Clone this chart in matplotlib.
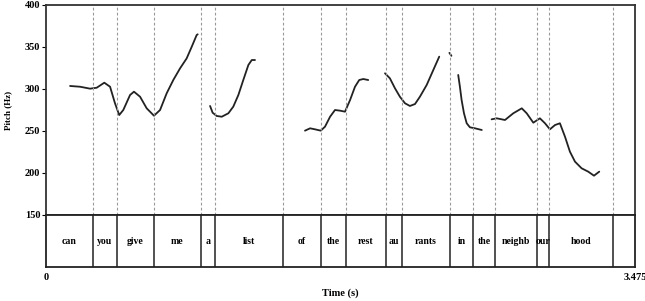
import numpy as np
import matplotlib
matplotlib.use('Agg')
import matplotlib.pyplot as plt

plt.rcParams['font.family'] = ['Liberation Serif', 'DejaVu Serif']
plt.rcParams['font.weight'] = 'bold'

# word tier: boundaries (s) and labels
bounds = [0.0, 0.277, 0.419, 0.637, 0.914, 0.997, 1.398, 1.622, 1.770,
          2.006, 2.100, 2.383, 2.519, 2.649, 2.897, 2.968, 3.345, 3.475]
words = ['can', 'you', 'give', 'me', 'a', 'list', 'of', 'the', 'rest',
         'au', 'rants', 'in', 'the', 'neighb', 'our', 'hood', '']
t_end = 3.475

# pitch contour pieces (time s, pitch Hz)
seg1_t = [0.142, 0.201, 0.260, 0.299, 0.344, 0.378, 0.407, 0.432, 0.456, 0.496, 0.519,
          0.555, 0.594, 0.637, 0.673, 0.712, 0.751, 0.791, 0.830, 0.860, 0.889, 0.895]
seg1_f = [303.6, 302.7, 300.4, 301.5, 307.5, 302.7, 283.0, 269.0, 275.0, 292.9, 296.8,
          290.8, 277.0, 268.2, 275.0, 294.9, 310.7, 324.6, 336.5, 350.4, 364.3, 365.1]
seg2_t = [0.968, 0.983, 1.007, 1.037, 1.076, 1.105, 1.135, 1.164, 1.194, 1.214, 1.233]
seg2_f = [279.8, 271.8, 267.9, 267.0, 271.1, 279.0, 292.9, 310.7, 328.6, 334.5, 334.5]
seg3_t = [1.528, 1.558, 1.587, 1.621, 1.646, 1.676, 1.705, 1.735, 1.764, 1.794, 1.823,
          1.848, 1.872, 1.901]
seg3_f = [250.4, 253.2, 252.0, 250.4, 255.1, 267.0, 275.0, 274.2, 273.0, 286.9, 302.7,
          310.7, 311.9, 310.7]
seg4_t = [2.000, 2.029, 2.059, 2.088, 2.118, 2.147, 2.177, 2.206, 2.246, 2.285, 2.320]
seg4_f = [318.7, 312.7, 300.8, 290.8, 283.0, 279.8, 282.1, 290.8, 304.8, 322.6, 338.5]
seg5_t = [2.380, 2.392]
seg5_f = [343.0, 339.5]
seg6_t = [2.432, 2.442, 2.452, 2.466, 2.482, 2.501, 2.531, 2.571]
seg6_f = [316.7, 302.7, 286.9, 271.1, 259.2, 254.4, 253.2, 251.2]
seg7_t = [2.629, 2.659, 2.708, 2.757, 2.807, 2.836, 2.875, 2.914, 2.944, 2.973, 3.003,
          3.032, 3.062, 3.091, 3.121, 3.160, 3.199, 3.233, 3.264]
seg7_f = [263.9, 265.1, 263.1, 271.1, 277.0, 271.1, 259.9, 265.1, 259.2, 252.0, 257.1,
          259.2, 243.2, 225.4, 213.5, 205.6, 201.6, 196.8, 201.6]

segs = [(seg1_t, seg1_f), (seg2_t, seg2_f), (seg3_t, seg3_f), (seg4_t, seg4_f),
        (seg5_t, seg5_f), (seg6_t, seg6_f), (seg7_t, seg7_f)]

fig = plt.figure(figsize=(6.45, 3.01), dpi=100)
ax = fig.add_axes([46/645, 1-215/301, 589/645, 210/301])
tier = fig.add_axes([46/645, 1-267/301, 589/645, 52/301])

for t, f in segs:
    ax.plot(t, f, color='#222222', lw=1.3, solid_capstyle='round', solid_joinstyle='round')

for b in bounds[1:-1]:
    ax.axvline(b, color='#999999', lw=0.8, ls=(0, (2.5, 2)))
    tier.axvline(b, color='#222222', lw=1.1)

ax.set_xlim(0, t_end)
ax.set_ylim(150, 400)
ax.set_yticks([150, 200, 250, 300, 350, 400])
ax.set_xticks([])
ax.tick_params(axis='y', length=3, width=0.8, pad=1, labelsize=7.5)
for lab in ax.get_yticklabels():
    lab.set_fontweight('bold')
ax.set_ylabel('Pitch (Hz)', fontsize=6.5, fontweight='bold', labelpad=9)
for s in ax.spines.values():
    s.set_linewidth(1.3)
    s.set_color('#333333')

for i in range(len(words)):
    mid = (bounds[i] + bounds[i+1]) / 2
    tier.text(mid, 0.5, words[i], ha='center', va='center', fontsize=7, fontweight='bold')

tier.set_xlim(0, t_end)
tier.set_ylim(0, 1)
tier.set_yticks([])
tier.set_xticks([0, t_end])
tier.set_xticklabels(['0', '3.475'])
tier.tick_params(axis='x', length=0, pad=4, labelsize=7.5)
for lab in tier.get_xticklabels():
    lab.set_fontweight('bold')
tier.set_xlabel('Time (s)', fontsize=7.5, fontweight='bold', labelpad=5)
for s in tier.spines.values():
    s.set_linewidth(1.3)
    s.set_color('#222222')

fig.savefig('out.png', dpi=100)
